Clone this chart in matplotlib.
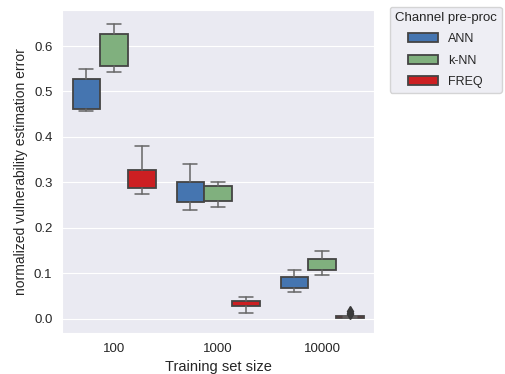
import numpy as np
import matplotlib
matplotlib.use('Agg')
import matplotlib.pyplot as plt
import seaborn as sns
from matplotlib.patches import Patch

sns.set_style('darkgrid')
plt.rcParams['font.family'] = ['Liberation Sans', 'DejaVu Sans']

sizes = ['100', '1000', '10000']
methods = ['ANN', 'k-NN', 'FREQ']
colors = ['#4575b0', '#80b07e', '#cc1f22']

# box stats per method, one value per training set size
whislo = {'ANN': [0.456, 0.239, 0.059], 'k-NN': [0.543, 0.246, 0.096], 'FREQ': [0.275, 0.013, 0.001]}
q1 = {'ANN': [0.462, 0.256, 0.067], 'k-NN': [0.555, 0.260, 0.107], 'FREQ': [0.288, 0.027, 0.002]}
med = {'ANN': [0.462, 0.256, 0.067], 'k-NN': [0.555, 0.260, 0.107], 'FREQ': [0.288, 0.027, 0.002]}
q3 = {'ANN': [0.528, 0.300, 0.092], 'k-NN': [0.627, 0.292, 0.131], 'FREQ': [0.327, 0.040, 0.005]}
whishi = {'ANN': [0.549, 0.341, 0.107], 'k-NN': [0.648, 0.300, 0.149], 'FREQ': [0.379, 0.048, 0.007]}
fliers = {'ANN': [[], [], []], 'k-NN': [[], [], []], 'FREQ': [[], [], [0.010, 0.013, 0.016]]}

fig = plt.figure(figsize=(5.05, 3.74), dpi=100)
ax = fig.add_axes([0.123, 0.110, 0.618, 0.863])

w = 0.8 / len(methods)
edge = '#444444'
for j, m in enumerate(methods):
    stats = []
    for i in range(len(sizes)):
        stats.append({'whislo': whislo[m][i], 'q1': q1[m][i], 'med': med[m][i],
                      'q3': q3[m][i], 'whishi': whishi[m][i], 'fliers': fliers[m][i]})
    pos = np.arange(len(sizes)) + (j - 1) * w
    ax.bxp(stats, positions=pos, widths=w, patch_artist=True, manage_ticks=False,
           boxprops=dict(facecolor=colors[j], edgecolor=edge, linewidth=1.3),
           whiskerprops=dict(color='#666666', linewidth=1.1),
           capprops=dict(color='#666666', linewidth=1.1),
           medianprops=dict(color=edge, linewidth=0),
           flierprops=dict(marker='d', markerfacecolor='#3a3a3a', markeredgecolor='#3a3a3a',
                           markersize=5))

ax.set_xlim(-0.5, 2.5)
ax.set_ylim(-0.031, 0.679)
ax.set_xticks(range(len(sizes)))
ax.set_xticklabels(sizes)
ax.set_yticks([0.0, 0.1, 0.2, 0.3, 0.4, 0.5, 0.6])
ax.tick_params(labelsize=9.5, colors='#262626')
ax.grid(axis='x', visible=False)
ax.set_xlabel('Training set size', fontsize=10.5, color='#262626')
ax.set_ylabel('normalized vulnerability estimation error', fontsize=10, color='#262626')

handles = [Patch(facecolor=c, edgecolor=edge, linewidth=1.3, label=m) for m, c in zip(methods, colors)]
leg = ax.legend(handles=handles, title='Channel pre-proc', loc='upper left',
                bbox_to_anchor=(1.05, 1.01), borderaxespad=0, fontsize=9, title_fontsize=9.5,
                borderpad=0.4, labelspacing=0.75, handlelength=2.4)

fig.savefig('out.png', dpi=100)
